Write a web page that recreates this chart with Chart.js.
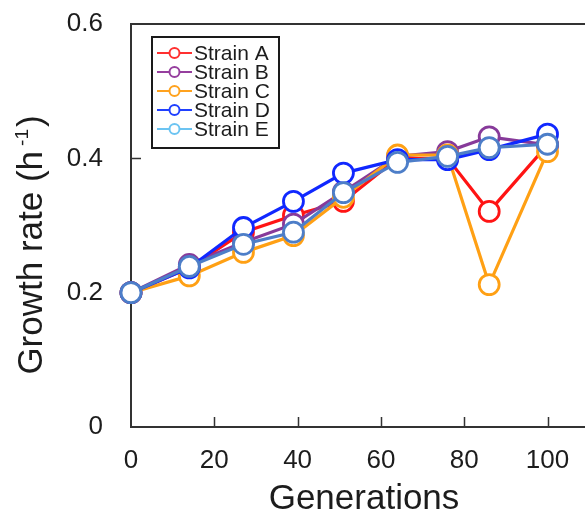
<!DOCTYPE html>
<html>
<head>
<meta charset="utf-8">
<title>Growth rate over generations</title>
<script src="https://cdn.jsdelivr.net/npm/chart.js@4/dist/chart.umd.min.js"></script>
<style>
  html, body { margin: 0; padding: 0; background: #fff; }
  #wrap { width: 585px; height: 511px; position: relative; }
</style>
</head>
<body>
<div id="wrap"><canvas id="growthChart" width="585" height="511"></canvas></div>
<script>
// Generations at which growth rate was measured
const generations = [0, 14, 27, 39, 51, 64, 76, 86, 100];

// Growth rate (h^-1) per strain
const strainA = [0.200, 0.237, 0.290, 0.315, 0.336, 0.400, 0.400, 0.321, 0.420];
const strainB = [0.200, 0.242, 0.275, 0.302, 0.350, 0.403, 0.410, 0.432, 0.420];
const strainC = [0.200, 0.225, 0.260, 0.285, 0.342, 0.405, 0.405, 0.212, 0.410];
const strainD = [0.200, 0.237, 0.297, 0.336, 0.378, 0.398, 0.398, 0.413, 0.436];
const strainE = [0.200, 0.239, 0.272, 0.290, 0.349, 0.394, 0.403, 0.416, 0.421];

const strainNames = ['Strain A', 'Strain B', 'Strain C', 'Strain D', 'Strain E'];
const xTicks = [0, 20, 40, 60, 80, 100];
const yTicks = [0, 0.2, 0.4, 0.6];

const lineColors = ['#ff1414', '#873a9a', '#ffa014', '#1028ff', '#4d7ec8'];
const legendColors = ['#ff3030', '#963f9e', '#ffa21e', '#2040ff', '#6cc4f2'];

const FONT = '"Liberation Sans", Arial, sans-serif';
const INK = '#1c1c1c';

/**
 * Builds one line dataset for a strain.
 * @param {number} i - Index of the strain.
 * @param {Array<number>} values - Growth rates of the strain.
 */
function makeDataset(i, values) {
    return {
        label: strainNames[i],
        data: generations.map((g, k) => ({ x: g, y: values[k] })),
        borderColor: lineColors[i],
        backgroundColor: '#ffffff',
        borderWidth: 3.2,
        pointRadius: 10,
        pointBorderWidth: 2.8,
        pointBackgroundColor: '#ffffff',
        pointBorderColor: lineColors[i],
        tension: 0,
        clip: false,
        // later strains sit on top
        order: strainNames.length - i
    };
}

/**
 * Fixes the size of an axis box and drops the label overflow padding,
 * so the plot area lands at a known place.
 */
function fixAxisBox(scale, size) {
    if (scale.isHorizontal()) {
        scale.height = size;
    } else {
        scale.width = size;
    }
    scale.paddingLeft = 0;
    scale.paddingRight = 0;
    scale.paddingTop = 0;
    scale.paddingBottom = 0;
}

// Frame top line and inward tick marks
const framePlugin = {
    id: 'frame',
    beforeDatasetsDraw(chart) {
        const { ctx, chartArea, scales } = chart;
        ctx.save();
        ctx.strokeStyle = '#333';
        ctx.lineWidth = 2;
        ctx.beginPath();
        ctx.moveTo(chartArea.left - 1, chartArea.top);
        ctx.lineTo(chartArea.right, chartArea.top);
        ctx.stroke();

        ctx.lineWidth = 1.5;
        ctx.beginPath();
        xTicks.slice(1).forEach(v => {
            const px = Math.round(scales.x.getPixelForValue(v)) + 0.5;
            ctx.moveTo(px, chartArea.bottom);
            ctx.lineTo(px, chartArea.bottom - 10);
        });
        yTicks.slice(1, -1).forEach(v => {
            const py = Math.round(scales.y.getPixelForValue(v)) + 0.5;
            ctx.moveTo(chartArea.left, py);
            ctx.lineTo(chartArea.left + 10, py);
        });
        ctx.stroke();
        ctx.restore();
    },
    afterDraw(chart) {
        const { ctx } = chart;
        ctx.save();
        ctx.fillStyle = INK;

        // x axis title
        ctx.font = '35px ' + FONT;
        ctx.textAlign = 'center';
        ctx.textBaseline = 'alphabetic';
        ctx.fillText('Generations', 364, 509);

        // y axis title with superscript unit
        const main = 'Growth rate (h';
        const sup = '-1';
        const close = ')';
        ctx.font = '35px ' + FONT;
        const wMain = ctx.measureText(main).width;
        const wClose = ctx.measureText(close).width;
        ctx.font = '19px ' + FONT;
        const wSup = ctx.measureText(sup).width;
        const gap = 5;
        const total = wMain + gap + wSup + 2 + wClose;
        ctx.translate(42, 245);
        ctx.rotate(-Math.PI / 2);
        ctx.textAlign = 'left';
        let x = -total / 2;
        ctx.font = '35px ' + FONT;
        ctx.fillText(main, x, 0);
        x += wMain + gap;
        ctx.font = '19px ' + FONT;
        ctx.fillText(sup, x, -14);
        x += wSup + 2;
        ctx.font = '35px ' + FONT;
        ctx.fillText(close, x, 0);
        ctx.restore();

        // legend box
        ctx.save();
        ctx.strokeStyle = '#1a1a1a';
        ctx.lineWidth = 2;
        ctx.fillStyle = '#ffffff';
        ctx.fillRect(152, 37, 127, 111);
        ctx.strokeRect(152, 37, 127, 111);
        ctx.font = '21px ' + FONT;
        ctx.textAlign = 'left';
        ctx.textBaseline = 'middle';
        strainNames.forEach((name, i) => {
            const y = 53 + i * 19;
            ctx.strokeStyle = legendColors[i];
            ctx.lineWidth = 2;
            ctx.beginPath();
            ctx.moveTo(157, y);
            ctx.lineTo(192, y);
            ctx.stroke();
            ctx.beginPath();
            ctx.arc(174.5, y, 5, 0, Math.PI * 2);
            ctx.fillStyle = '#ffffff';
            ctx.fill();
            ctx.stroke();
            ctx.fillStyle = INK;
            ctx.fillText(name, 194, y + 1);
        });
        ctx.restore();
    }
};

function main() {
    const context = document.getElementById('growthChart');
    const config = {
        type: 'line',
        data: {
            datasets: [
                makeDataset(0, strainA),
                makeDataset(1, strainB),
                makeDataset(2, strainC),
                makeDataset(3, strainD),
                makeDataset(4, strainE)
            ]
        },
        options: {
            responsive: false,
            animation: false,
            layout: { autoPadding: false, padding: { left: 0, right: 0, top: 24, bottom: 0 } },
            plugins: {
                legend: { display: false },
                tooltip: { enabled: false }
            },
            scales: {
                x: {
                    type: 'linear',
                    min: 0,
                    max: 109,
                    afterBuildTicks: scale => { scale.ticks = xTicks.map(v => ({ value: v })); },
                    afterFit: scale => fixAxisBox(scale, 84),
                    grid: { display: false },
                    border: { display: true, color: '#333', width: 2 },
                    ticks: {
                        padding: 10,
                        color: INK,
                        font: { family: FONT, size: 26 },
                        maxRotation: 0
                    }
                },
                y: {
                    min: 0,
                    max: 0.6,
                    afterBuildTicks: scale => { scale.ticks = yTicks.map(v => ({ value: v })); },
                    afterFit: scale => fixAxisBox(scale, 131),
                    grid: { display: false },
                    border: { display: true, color: '#333', width: 2 },
                    ticks: {
                        padding: 20,
                        color: INK,
                        font: { family: FONT, size: 26 },
                        callback: v => (v === 0 ? '0' : v.toFixed(1))
                    }
                }
            }
        },
        plugins: [framePlugin]
    };
    return new Chart(context, config);
}

window.onload = main;
</script>
</body>
</html>
